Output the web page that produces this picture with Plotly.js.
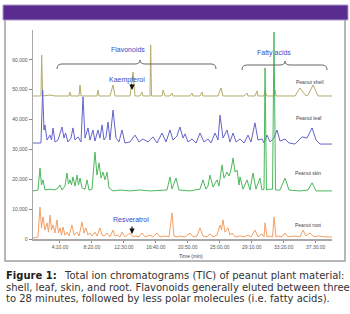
<!DOCTYPE html>
<html><head><meta charset="utf-8">
<script src="https://cdn.plot.ly/plotly-3.0.1.min.js"></script>
<style>html,body{margin:0;padding:0;background:#fff;}#chart{width:350px;height:314px;}</style>
</head><body><div id="chart"></div>
<script>
// ---- data (time in minutes, TIC counts incl. display offset) ----
const shellTime = [0.65,1.69,1.78,1.91,2.87,3.52,5.34,5.47,5.60,6.65,6.78,6.91,8.99,9.12,9.26,10.69,11.08,11.34,13.30,13.69,13.95,14.60,14.86,14.99,15.90,15.99,16.10,17.47,17.60,17.86,18.51,18.77,18.90,21.12,21.38,21.51,22.42,22.68,22.81,24.77,25.16,25.42,28.16,28.55,28.68,29.59,29.86,29.98,30.77,30.90,31.09,32.07,32.20,32.33,34.81,35.46,36.24,36.50,37.16,37.81,39.63];
const shellTIC = [47900,47900,61600,47900,48200,47900,47900,49200,47900,47900,51600,47900,47900,49900,47900,47900,51600,47900,47900,55900,47900,47900,49200,47900,47900,65000,47900,47900,49900,47900,47900,48900,47900,47900,48900,47900,47900,49200,47900,47900,50600,47900,47900,48900,47900,47900,49600,47900,47900,49900,47900,47900,49900,47900,47900,50600,47900,48200,51600,47900,47900];

const leafTime = [0.65,1.69,1.91,2.08,2.21,2.48,2.87,3.06,3.26,3.52,3.91,4.43,4.69,4.89,5.21,5.60,5.86,6.13,6.52,6.91,7.17,7.43,7.82,8.08,8.47,8.73,9.12,9.38,9.65,9.91,10.17,10.43,10.69,11.08,11.47,11.86,12.25,12.64,13.30,13.95,14.47,14.99,15.64,16.29,16.82,17.47,17.99,18.51,18.90,19.42,19.81,20.21,20.47,20.86,21.38,21.90,22.42,22.94,23.46,23.86,24.38,24.77,25.03,25.42,25.94,26.33,26.73,27.12,27.64,28.16,28.68,29.07,29.59,29.98,30.51,30.77,31.16,31.55,32.07,32.46,32.85,33.50,34.03,34.81,35.72,36.37,37.03,37.55,38.07,39.63];
const leafTIC = [32150,32150,49900,36500,38200,33150,34800,33150,37200,32500,33150,37500,33800,35500,32500,33800,37200,33150,34200,32500,47600,33800,37200,33150,36500,32800,36500,33800,38200,33150,34200,39200,33150,43200,33800,32500,36500,32150,32500,34800,32500,33500,32500,34200,32150,35500,32500,36500,33150,34500,37500,33800,35200,32500,33500,32150,35500,32500,33500,32150,35500,33150,41500,33800,36500,32500,35500,32500,33500,32150,34800,32500,38900,33150,33500,32150,34800,32500,33800,36500,32800,33500,32150,31800,34200,33800,37200,33150,31800,31800];

const skinTime = [0.65,1.30,1.56,1.76,1.95,2.21,2.87,3.52,3.91,4.17,4.43,4.82,5.08,5.28,5.47,5.67,5.86,6.13,6.39,6.58,6.78,7.04,7.43,7.69,7.95,8.34,8.73,8.99,9.26,9.52,9.78,10.04,10.30,10.56,11.08,11.99,13.30,14.60,15.90,17.21,18.12,18.51,18.77,19.29,19.69,21.12,22.42,22.81,23.20,23.46,23.72,24.12,24.64,24.90,25.29,25.55,25.94,26.20,26.46,26.73,26.99,27.25,27.51,27.64,28.03,28.55,28.94,29.33,29.72,30.24,30.51,30.77,30.90,31.09,31.42,31.88,32.07,32.27,32.85,33.50,34.03,35.46,36.50,37.03,37.55,39.63];
const skinTIC = [16100,16400,23800,18100,19800,16400,16700,16400,17100,18100,16400,17700,22100,18400,19800,18100,20800,17700,21400,18100,20400,17100,16700,19800,16400,16700,29100,21400,25500,20400,22400,19800,22400,17100,16100,16400,16100,16400,16100,16400,16400,20800,16700,20400,16400,16100,16700,19800,16700,17700,21400,17400,19800,17700,24800,20400,22400,21100,23100,27100,22400,23100,18100,20800,16700,19800,16400,22100,16700,20400,16400,16700,57300,16400,16700,16700,69300,16400,16400,20400,16400,16100,16400,18800,16100,16100];

const rootTime = [0.65,1.30,1.56,1.76,1.95,2.21,2.48,2.67,2.87,3.06,3.26,3.52,3.78,3.97,4.17,4.37,4.56,4.82,5.08,5.34,5.73,5.99,6.39,6.65,7.04,7.30,7.56,7.82,8.08,8.34,8.73,8.99,9.38,9.65,9.91,10.30,10.69,11.08,11.34,11.60,11.99,12.25,12.64,13.30,13.69,13.95,14.47,14.86,15.25,15.90,16.29,16.82,17.21,17.86,18.38,18.77,19.03,19.42,19.81,20.47,21.12,21.51,22.03,22.42,22.81,23.34,23.72,24.12,24.64,25.03,25.23,25.42,25.68,26.07,26.33,26.59,26.99,27.64,28.16,28.68,29.07,29.59,29.98,30.51,30.77,30.90,31.16,31.55,31.88,32.07,32.33,32.59,33.11,33.50,33.89,34.81,35.46,35.85,36.24,36.76,37.29,37.81,38.72,39.63];
const rootTIC = [300,700,10700,3700,7400,3000,5400,2300,8000,3000,4700,2000,6400,2000,3700,1300,4000,1300,2300,1000,4700,1300,2300,1000,5700,2000,3700,1300,2000,1000,2300,1000,3700,1300,1000,2000,700,3000,1000,1300,700,2300,700,2000,700,1000,700,2000,700,1300,700,2000,700,1000,700,8700,1000,700,1000,700,2000,700,1000,3700,1000,700,1700,700,1300,4700,3000,6400,2300,3700,1300,2000,700,1000,700,1300,700,3000,700,1700,700,5400,700,1000,700,7400,700,1000,700,2000,700,1000,700,3000,1000,2000,700,1000,700,700];

const xTickVals = [4.1667,8.3333,12.5,16.6667,20.8333,25,29.1667,33.3333,37.5];
const xTickText = ['4:10.00','8:20.00','12:30.00','16:40.00','20:50.00','25:00.00','29:10.00','33:20.00','37:30.00'];
const yTickVals = [0,10000,20000,30000,40000,50000,60000];
const yTickText = ['0','10,000','20,000','30,000','40,000','50,000','60,000'];
const sampleNames = ['Peanut shell','Peanut leaf','Peanut skin','Peanut root'];
const captionLines = ['Total ion chromatograms (TIC) of peanut plant material:',
  'shell, leaf, skin, and root. Flavonoids generally eluted between three',
  'to 28 minutes, followed by less polar molecules (i.e. fatty acids).'];

// ---- layout helpers (pixel -> paper) ----
const W = 350, H = 314;
const X = p => p / W, Y = p => 1 - p / H;
function brace(x1, x2, xc, y) {
  const P = (a, b) => X(a).toFixed(5) + ',' + Y(b).toFixed(5);
  return 'M' + P(x1, y + 5) + ' Q' + P(x1, y) + ' ' + P(x1 + 5, y) + ' L' + P(xc - 5, y) +
    ' Q' + P(xc, y) + ' ' + P(xc, y - 4) + ' Q' + P(xc, y) + ' ' + P(xc + 5, y) +
    ' L' + P(x2 - 5, y) + ' Q' + P(x2, y) + ' ' + P(x2, y + 5);
}

const mk = (t, v, c, n) => ({x: t, y: v, type: 'scatter', mode: 'lines', name: n,
  line: {color: c, width: 1}, hoverinfo: 'skip'});
const data = [
  mk(shellTime, shellTIC, '#b2ad6c', sampleNames[0]),
  mk(leafTime, leafTIC, '#6464cc', sampleNames[1]),
  mk(rootTime, rootTIC, '#f5a064', sampleNames[3]),
  mk(skinTime, skinTIC, '#4cb85c', sampleNames[2])
];

const blue = '#3a4cc4';
const ann = [];
const txt = (s, px, py, size, color, extra) => Object.assign({text: s, xref: 'paper', yref: 'paper',
  x: X(px), y: Y(py), xanchor: 'center', yanchor: 'middle', showarrow: false,
  font: {family: 'Liberation Sans, Arial, sans-serif', size: size, color: color}}, extra || {});
ann.push(txt('Flavonoids', 128, 50, 7, blue));
ann.push(txt('Fatty acids', 274, 53, 7, blue));
ann.push(txt('Kaempferol', 127, 80, 7, blue));
ann.push(txt('Resveratrol', 131, 219, 7, blue));
ann.push(txt(sampleNames[0], 310, 82, 5, '#444'));
ann.push(txt(sampleNames[1], 309, 118, 5, '#444'));
ann.push(txt(sampleNames[2], 308, 173, 5, '#444'));
ann.push(txt(sampleNames[3], 308, 225, 5, '#444'));
ann.push(txt('Time (min)', 191, 256, 5, '#444'));
// arrows
const arrow = (px, py, len) => ({text: '', xref: 'paper', yref: 'paper', x: X(px), y: Y(py),
  ax: 0, ay: -len, showarrow: true, arrowhead: 2, arrowsize: 0.9, arrowwidth: 1.2, arrowcolor: '#111'});
ann.push(arrow(132, 90, 7));
ann.push(arrow(132, 234, 9));
// caption
const capFam = 'DejaVu Sans, sans-serif';
const capFont = {family: capFam, size: 10, color: '#333'};
ann.push({text: '<b>Figure 1:</b>', xref: 'paper', yref: 'paper', x: X(4), y: Y(275.5), xanchor: 'left', yanchor: 'middle',
  showarrow: false, font: {family: capFam, size: 10, color: '#222'}});
ann.push({text: captionLines[0], xref: 'paper', yref: 'paper', x: X(62), y: Y(275.5), xanchor: 'left', yanchor: 'middle', showarrow: false, font: capFont});
ann.push({text: captionLines[1], xref: 'paper', yref: 'paper', x: X(4), y: Y(287), xanchor: 'left', yanchor: 'middle', showarrow: false, font: capFont});
ann.push({text: captionLines[2], xref: 'paper', yref: 'paper', x: X(4), y: Y(298.5), xanchor: 'left', yanchor: 'middle', showarrow: false, font: capFont});

const shapes = [
  {type: 'rect', xref: 'paper', yref: 'paper', x0: X(5), x1: X(345), y0: Y(261), y1: Y(12),
    line: {color: '#a0a0a0', width: 1.5}, fillcolor: 'rgba(0,0,0,0)', layer: 'below'},
  {type: 'rect', xref: 'paper', yref: 'paper', x0: X(3), x1: X(348), y0: Y(20), y1: Y(5),
    line: {color: '#a99cc9', width: 1}, fillcolor: '#5b2c8f'},
  {type: 'path', xref: 'paper', yref: 'paper', path: brace(57, 216, 140, 64), line: {color: '#666', width: 1}},
  {type: 'path', xref: 'paper', yref: 'paper', path: brace(242, 327, 285, 65), line: {color: '#666', width: 1}}
];

const tickFont = {family: 'Liberation Sans, Arial, sans-serif', size: 5, color: '#555'};
const layout = {
  width: W, height: H, margin: {l: 0, r: 0, t: 0, b: 0},
  paper_bgcolor: '#fff', plot_bgcolor: '#fff', showlegend: false,
  xaxis: {domain: [X(33), X(332)], range: [0.65, 39.63], tickvals: xTickVals, ticktext: xTickText,
    showgrid: false, zeroline: false, showline: true, linecolor: '#a8a8a8', linewidth: 1.5,
    ticks: 'outside', ticklen: 2, tickcolor: '#888', tickfont: tickFont, fixedrange: true},
  yaxis: {domain: [Y(239), Y(30)], range: [0, 70000], tickvals: yTickVals, ticktext: yTickText,
    showgrid: false, zeroline: false, showline: true, linecolor: '#a8a8a8', linewidth: 1.5,
    ticks: 'outside', ticklen: 3, tickcolor: '#888', tickfont: tickFont, fixedrange: true},
  annotations: ann, shapes: shapes
};
Plotly.newPlot('chart', data, layout, {displayModeBar: false, staticPlot: true});
</script></body></html>
